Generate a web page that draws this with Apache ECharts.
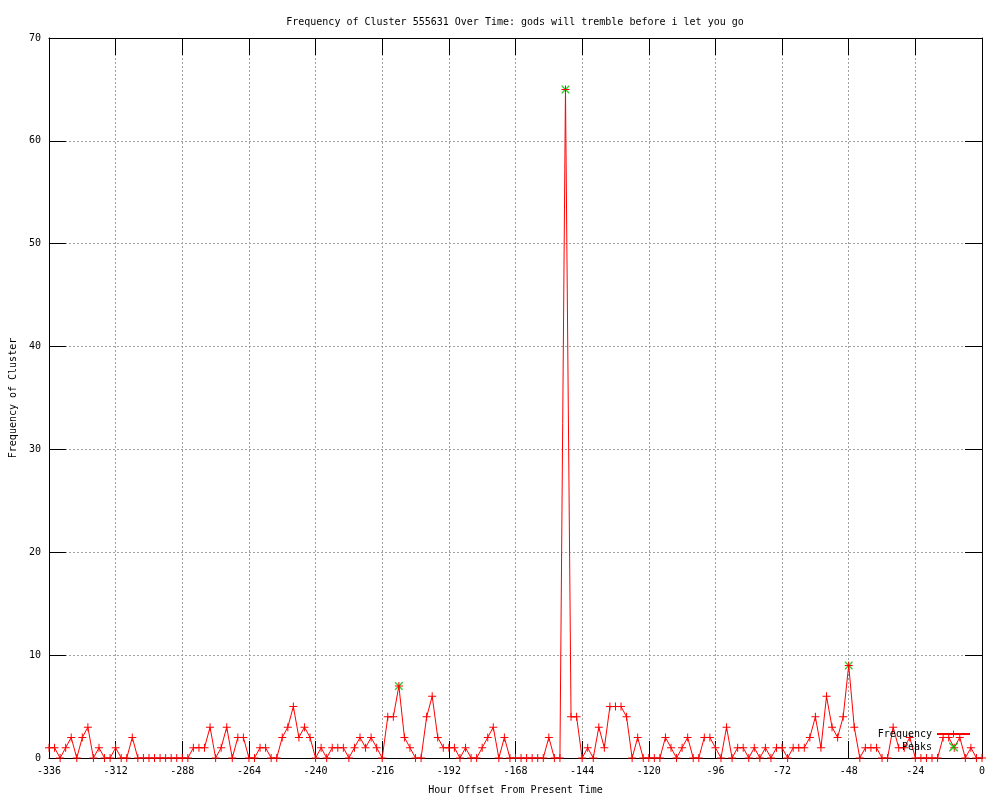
<!DOCTYPE html>
<html>
<head>
<meta charset="utf-8">
<script src="https://cdn.jsdelivr.net/npm/echarts@6/dist/echarts.min.js"></script>
<style>html,body{margin:0;padding:0;background:#fff}#c{width:1000px;height:800px}</style>
</head>
<body>
<div id="c"></div>
<script>
const titleText = "Frequency of Cluster 555631 Over Time: gods will tremble before i let you go";
const xName = "Hour Offset From Present Time";
const yName = "Frequency of Cluster";
const hours = [-336,-334,-332,-330,-328,-326,-324,-322,-320,-318,-316,-314,-312,-310,-308,-306,-304,-302,-300,-298,-296,-294,-292,-290,-288,-286,-284,-282,-280,-278,-276,-274,-272,-270,-268,-266,-264,-262,-260,-258,-256,-254,-252,-250,-248,-246,-244,-242,-240,-238,-236,-234,-232,-230,-228,-226,-224,-222,-220,-218,-216,-214,-212,-210,-208,-206,-204,-202,-200,-198,-196,-194,-192,-190,-188,-186,-184,-182,-180,-178,-176,-174,-172,-170,-168,-166,-164,-162,-160,-158,-156,-154,-152,-150,-148,-146,-144,-142,-140,-138,-136,-134,-132,-130,-128,-126,-124,-122,-120,-118,-116,-114,-112,-110,-108,-106,-104,-102,-100,-98,-96,-94,-92,-90,-88,-86,-84,-82,-80,-78,-76,-74,-72,-70,-68,-66,-64,-62,-60,-58,-56,-54,-52,-50,-48,-46,-44,-42,-40,-38,-36,-34,-32,-30,-28,-26,-24,-22,-20,-18,-16,-14,-12,-10,-8,-6,-4,-2,0];
const frequency = [1,1,0,1,2,0,2,3,0,1,0,0,1,0,0,2,0,0,0,0,0,0,0,0,0,0,1,1,1,3,0,1,3,0,2,2,0,0,1,1,0,0,2,3,5,2,3,2,0,1,0,1,1,1,0,1,2,1,2,1,0,4,4,7,2,1,0,0,4,6,2,1,1,1,0,1,0,0,1,2,3,0,2,0,0,0,0,0,0,0,2,0,0,65,4,4,0,1,0,3,1,5,5,5,4,0,2,0,0,0,0,2,1,0,1,2,0,0,2,2,1,0,3,0,1,1,0,1,0,1,0,1,1,0,1,1,1,2,4,1,6,3,2,4,9,3,0,1,1,1,0,0,3,1,1,2,0,0,0,0,0,2,2,1,2,0,1,0,0];
const peakHours = [-210,-150,-48];
const peakValues = [7,65,9];
const xTicks = {min:-336, max:0, interval:24};
const yTicks = {min:0, max:70, interval:10};

const font = "DejaVu Sans Mono";
const plusPath = 'path://M3.5,0H4.5V3.5H8V4.5H4.5V8H3.5V4.5H0V3.5H3.5Z';
const xPath = 'path://M0,0L1,0L4,3L7,0L8,0L8,1L5,4L8,7L8,8L7,8L4,5L1,8L0,8L0,7L3,4L0,1Z';

const chart = echarts.init(document.getElementById('c'), null, {renderer:'canvas'});
const axisBase = {
  axisLine:{show:true, onZero:false, lineStyle:{color:'#000', width:1}},
  axisTick:{show:true, inside:true, length:17, lineStyle:{color:'#000', width:1}},
};
const gridLine = {show:true, lineStyle:{color:'#a0a0a0', type:[2,2], width:1}};
chart.setOption({
  animation:false,
  backgroundColor:'#fff',
  title:{text:titleText, left:510, top:12, textAlign:'center',
    textStyle:{fontFamily:font, fontSize:10, fontWeight:'normal', color:'#000'}},
  grid:{left:49, right:18, top:38, bottom:40, containLabel:false},
  legend:{
    orient:'vertical', right:24, top:724, align:'right', itemWidth:33, itemHeight:9, itemGap:3,
    textStyle:{fontFamily:font, fontSize:10, color:'#000', padding:[0,0,0,0]},
    data:['Frequency','Peaks']
  },
  xAxis:[
    Object.assign({type:'value', position:'bottom', min:xTicks.min, max:xTicks.max, interval:xTicks.interval,
      name:xName, nameLocation:'middle', nameGap:27,
      nameTextStyle:{fontFamily:font, fontSize:10, color:'#000'},
      axisLabel:{fontFamily:font, fontSize:10, color:'#000', margin:8},
      splitLine:gridLine}, axisBase),
    Object.assign({type:'value', position:'top', min:xTicks.min, max:xTicks.max, interval:xTicks.interval,
      axisLabel:{show:false}, splitLine:{show:false}}, axisBase)
  ],
  yAxis:[
    Object.assign({type:'value', position:'left', min:yTicks.min, max:yTicks.max, interval:yTicks.interval,
      name:yName, nameLocation:'middle', nameGap:30,
      nameTextStyle:{fontFamily:font, fontSize:10, color:'#000'},
      axisLabel:{fontFamily:font, fontSize:10, color:'#000', margin:8},
      splitLine:gridLine}, axisBase),
    Object.assign({type:'value', position:'right', min:yTicks.min, max:yTicks.max, interval:yTicks.interval,
      axisLabel:{show:false}, splitLine:{show:false}}, axisBase)
  ],
  series:[
    {name:'Peaks', type:'scatter', xAxisIndex:0, yAxisIndex:0,
      data:peakHours.map((h,i)=>[h,peakValues[i]]),
      symbol:xPath, symbolSize:8, itemStyle:{color:'#00c000'}, emphasis:{disabled:true}, z:2},
    {name:'Frequency', type:'line', xAxisIndex:0, yAxisIndex:0,
      data:hours.map((h,i)=>[h,frequency[i]]),
      symbol:plusPath, symbolSize:8, showSymbol:true, showAllSymbol:true,
      lineStyle:{color:'#ff0000', width:1}, itemStyle:{color:'#ff0000'}, emphasis:{disabled:true}, z:3}
  ]
});
</script>
</body>
</html>
